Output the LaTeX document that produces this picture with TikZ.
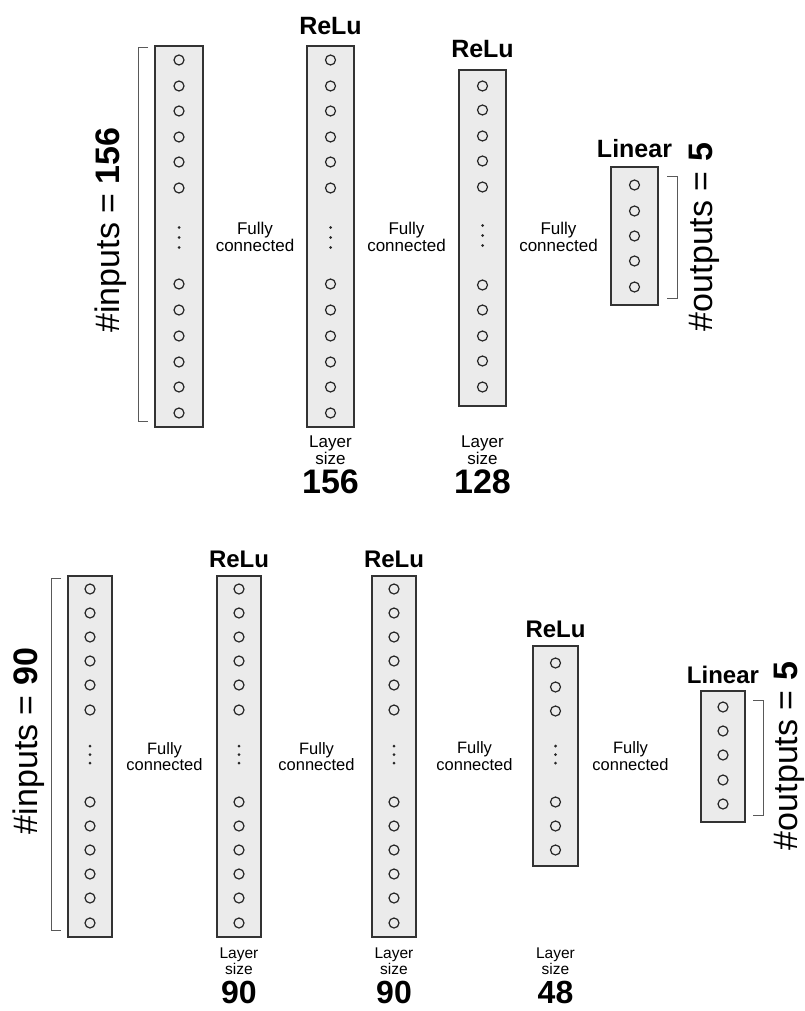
\documentclass[tikz,border=0pt]{standalone}
\usepackage{fontspec}
\setmainfont{Liberation Sans}
\usetikzlibrary{positioning, calc}

\begin{document}
\begin{tikzpicture}[
  x=1pt, y=-1pt,
  every node/.style={inner sep=0pt, outer sep=0pt}
]
\tikzset{
  layer/.style  ={draw=black!80, line width=1.4pt, fill=black!8},
  neuron/.style ={circle, draw=black!85, line width=1.2pt,
                  minimum size=10pt, inner sep=0pt},
  vdot/.style   ={circle, fill=black!85, minimum size=3pt, inner sep=0pt},
  act/.style    ={anchor=base, font=\bfseries\fontsize{25}{30}\selectfont},
  fc/.style     ={align=center, font=\fontsize{17}{13}\selectfont},
  lsize/.style  ={anchor=north, align=center, font=\fontsize{17}{14}\selectfont},
  lnum/.style   ={anchor=base, font=\bfseries\fontsize{34}{40}\selectfont},
  count/.style  ={rotate=90, font=\fontsize{34}{40}\selectfont},
  brk/.style    ={draw=black!65, line width=1pt}
}
\useasboundingbox (0,0) rectangle (804,1011);

%% ----- Top network: 156 -> 156 -> 128 -> 5 -----
\node[layer, minimum width=48pt, minimum height=381pt] (c1) at (179,236.5) {};
\node[layer, minimum width=47pt, minimum height=381pt] (c2) at (330.5,236.5) {};
\node[layer, minimum width=47pt, minimum height=336pt] (c3) at (482.5,238) {};
\node[layer, minimum width=47pt, minimum height=138pt] (c4) at (634.5,236) {};

\foreach \c in {c1,c2} {
  \foreach \y [count=\i] in {60,86,111,137,162,188,284,310,336,362,387,413}
    \node[neuron] (\c-\i) at (\c |- 0,\y) {};
  \foreach \y [count=\k] in {227.5,237.5,247.5}
    \node[vdot] (\c-d\k) at (\c |- 0,\y) {};
}
\foreach \y [count=\i] in {86,110,136,161,187,285,310,336,361,387}
  \node[neuron] (c3-\i) at (c3 |- 0,\y) {};
\foreach \y [count=\k] in {225.5,235.5,245.5}
  \node[vdot] (c3-d\k) at (c3 |- 0,\y) {};
\foreach \y [count=\i] in {185,211,236,261,287}
  \node[neuron] (c4-\i) at (c4 |- 0,\y) {};

\node[act] (a2) at ([yshift=11pt]c2.north) {ReLu};
\node[act] (a3) at ([yshift=12pt]c3.north) {ReLu};
\node[act] (a4) at ([yshift=9pt]c4.north) {Linear};

\node[fc] (f12) at ($(c1.east)!0.5!(c2.west)$) {Fully\\connected};
\node[fc] (f23) at ($(c2.east)!0.5!(c3.west)$) {Fully\\connected};
\node[fc] (f34) at ($(c3.east)!0.5!(c4.west)$) {Fully\\connected};

\coordinate (toplay) at (0,436);
\node[lsize] (l2) at (c2 |- toplay) {Layer\\size};
\node[lnum]  (n2) at ([yshift=-57pt]l2.north) {156};
\node[lsize] (l3) at (c3 |- toplay) {Layer\\size};
\node[lnum]  (n3) at ([yshift=-57pt]l3.north) {128};

\draw[brk] ([xshift=-7pt,yshift=-2pt]c1.north west) -- ++(-10,0)
  |- ([xshift=-7pt,yshift=6pt]c1.south west);
\draw[brk] ([xshift=9pt,yshift=-10pt]c4.north east) -- ++(10,0)
  |- ([xshift=9pt,yshift=7pt]c4.south east);

\node[count] (nin) at (111,230) {\#inputs = \textbf{156}};
\node[count] (nout) at (704,237) {\#outputs = \textbf{5}};

%% ----- Bottom network: 90 -> 90 -> 90 -> 48 -> 5 -----
\node[layer, minimum width=44pt, minimum height=361pt] (b1) at (90,756.5) {};
\node[layer, minimum width=44pt, minimum height=361pt] (b2) at (239,756.5) {};
\node[layer, minimum width=44pt, minimum height=361pt] (b3) at (394,756.5) {};
\node[layer, minimum width=45pt, minimum height=220pt] (b4) at (555.5,756) {};
\node[layer, minimum width=44pt, minimum height=131pt] (b5) at (723,756.5) {};

\foreach \c in {b1,b2,b3} {
  \foreach \y [count=\i] in {589,613,637,661,685,710,802,826,850,874,898,923}
    \node[neuron] (\c-\i) at (\c |- 0,\y) {};
  \foreach \y [count=\k] in {746,754.5,763}
    \node[vdot] (\c-d\k) at (\c |- 0,\y) {};
}
\foreach \y [count=\i] in {663,687,711,802,826,850}
  \node[neuron] (b4-\i) at (b4 |- 0,\y) {};
\foreach \y [count=\k] in {746,754.5,763}
  \node[vdot] (b4-d\k) at (b4 |- 0,\y) {};
\foreach \y [count=\i] in {707,731,755,780,804}
  \node[neuron] (b5-\i) at (b5 |- 0,\y) {};

\tikzset{act/.append style={font=\bfseries\fontsize{24}{28}\selectfont},
         fc/.append style={font=\fontsize{16.5}{13}\selectfont},
         lsize/.append style={font=\fontsize{15.5}{14}\selectfont},
         lnum/.append style={font=\bfseries\fontsize{32}{38}\selectfont}}

\node[act] (e2) at ([yshift=9pt]b2.north) {ReLu};
\node[act] (e3) at ([yshift=9pt]b3.north) {ReLu};
\node[act] (e4) at ([yshift=9pt]b4.north) {ReLu};
\node[act] (e5) at ([yshift=8pt]b5.north) {Linear};

\node[fc] (g12) at ($(b1.east)!0.5!(b2.west)$) {Fully\\connected};
\node[fc] (g23) at ($(b2.east)!0.5!(b3.west)$) {Fully\\connected};
\node[fc] (g34) at ($(b3.east)!0.5!(b4.west)$) {Fully\\connected};
\node[fc, xshift=-9pt] (g45) at ($(b4.east)!0.5!(b5.west)$) {Fully\\connected};

\coordinate (botlay) at (0,948);
\foreach \c/\n in {b2/90, b3/90, b4/48} {
  \node[lsize] (\c-lay) at (\c |- botlay) {Layer\\size};
  \node[lnum]  (\c-num) at ([yshift=-55pt]\c-lay.north) {\n};
}

\draw[brk] ([xshift=-7pt,yshift=-2pt]b1.north west) -- ++(-10,0)
  |- ([xshift=-7pt,yshift=7pt]b1.south west);
\draw[brk] ([xshift=8pt,yshift=-9pt]b5.north east) -- ++(10,0)
  |- ([xshift=8pt,yshift=7pt]b5.south east);

\node[count] (min) at (29,741) {\#inputs = \textbf{90}};
\node[count] (mout) at (789,756) {\#outputs = \textbf{5}};

\end{tikzpicture}
\end{document}
